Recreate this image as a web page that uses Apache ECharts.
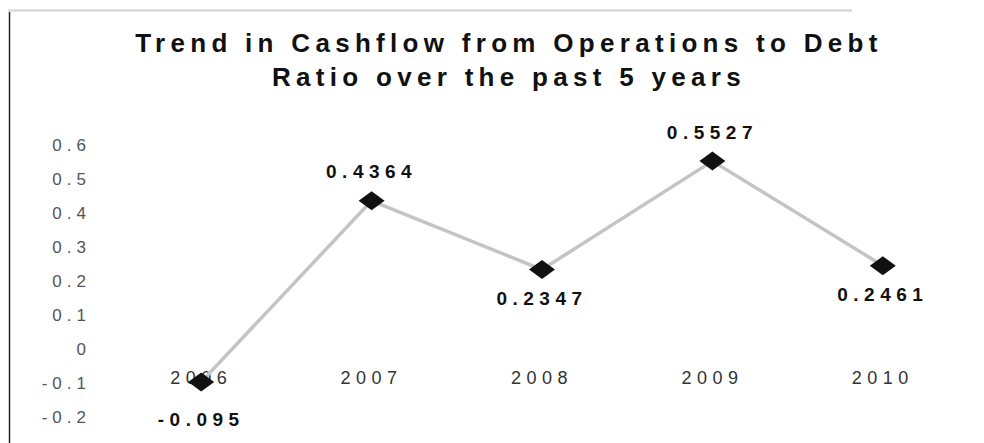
<!DOCTYPE html>
<html>
<head>
<meta charset="utf-8">
<script src="https://cdn.jsdelivr.net/npm/echarts@6/dist/echarts.min.js"></script>
<style>
  html, body { margin: 0; padding: 0; background: #fff; }
  #chart { width: 984px; height: 443px; }
  /* wide tracking of the printed chart's lettering */
  #chart text[style*="26px"], #chart text[font-size="26"] { letter-spacing: 5.3px; }
  #chart text[style*="19px"], #chart text[font-size="19"] { letter-spacing: 5.5px; }
  #chart text[style*="18px"], #chart text[font-size="18"] { letter-spacing: 5.5px; }
  #chart text[style*="17px"], #chart text[font-size="17"] { letter-spacing: 5px; }
</style>
</head>
<body>
<div id="chart"></div>
<script>
// Cashflow from operations / total debt, by fiscal year
const years = ['2006', '2007', '2008', '2009', '2010'];
const ratios = [-0.095, 0.4364, 0.2347, 0.5527, 0.2461];

// value axis range and step
const yMin = -0.2;
const yMax = 0.6;
const yStep = 0.1;

const titleText = 'Trend in Cashflow from Operations to Debt\nRatio over the past 5 years';

// where each value label sits relative to its marker
const labelSide = ['bottom', 'top', 'bottom', 'top', 'bottom'];
const labelGap = [19, 10, 10, 10, 10];

const chart = echarts.init(document.getElementById('chart'), null, { renderer: 'svg' });

chart.setOption({
  animation: false,
  backgroundColor: '#ffffff',
  title: {
    text: titleText,
    left: 509,
    top: 26,
    textAlign: 'center',
    padding: 0,
    textStyle: {
      fontFamily: 'Liberation Sans',
      fontSize: 26,
      fontWeight: 'bold',
      color: '#111',
      lineHeight: 34
    }
  },
  grid: { left: 116, right: 16, top: 145, bottom: 25.3, outerBoundsMode: 'none' },
  xAxis: {
    type: 'category',
    data: years,
    boundaryGap: true,
    // year labels sit just under the zero level, inside the plot
    axisLine: { show: false, onZero: false },
    axisTick: { show: false },
    splitLine: { show: false },
    axisLabel: {
      margin: -49,
      fontFamily: 'Liberation Sans',
      fontSize: 18,
      color: '#333'
    }
  },
  yAxis: {
    type: 'value',
    min: yMin,
    max: yMax,
    interval: yStep,
    axisLine: { show: false },
    axisTick: { show: false },
    splitLine: { show: false },
    axisLabel: {
      margin: 25,
      fontFamily: 'Liberation Sans',
      fontSize: 17,
      color: '#555',
      formatter: v => String(+v.toFixed(1))
    }
  },
  series: [{
    type: 'line',
    data: ratios.map((v, i) => ({
      value: v,
      label: { position: labelSide[i], distance: labelGap[i] }
    })),
    symbol: 'diamond',
    symbolSize: [26, 19],
    itemStyle: { color: '#111' },
    lineStyle: { color: '#c4c4c4', width: 3.5 },
    label: {
      show: true,
      fontFamily: 'Liberation Sans',
      fontSize: 19,
      fontWeight: 'bold',
      color: '#111',
      formatter: p => String(p.value)
    }
  }],
  graphic: [
    { type: 'line', shape: { x1: 8, y1: 10.5, x2: 852, y2: 10.5 }, style: { stroke: '#d2d2d2', lineWidth: 2 }, silent: true },
    { type: 'line', shape: { x1: 9.5, y1: 12, x2: 9.5, y2: 443 }, style: { stroke: '#222', lineWidth: 1.5 }, silent: true }
  ]
});
</script>
</body>
</html>
